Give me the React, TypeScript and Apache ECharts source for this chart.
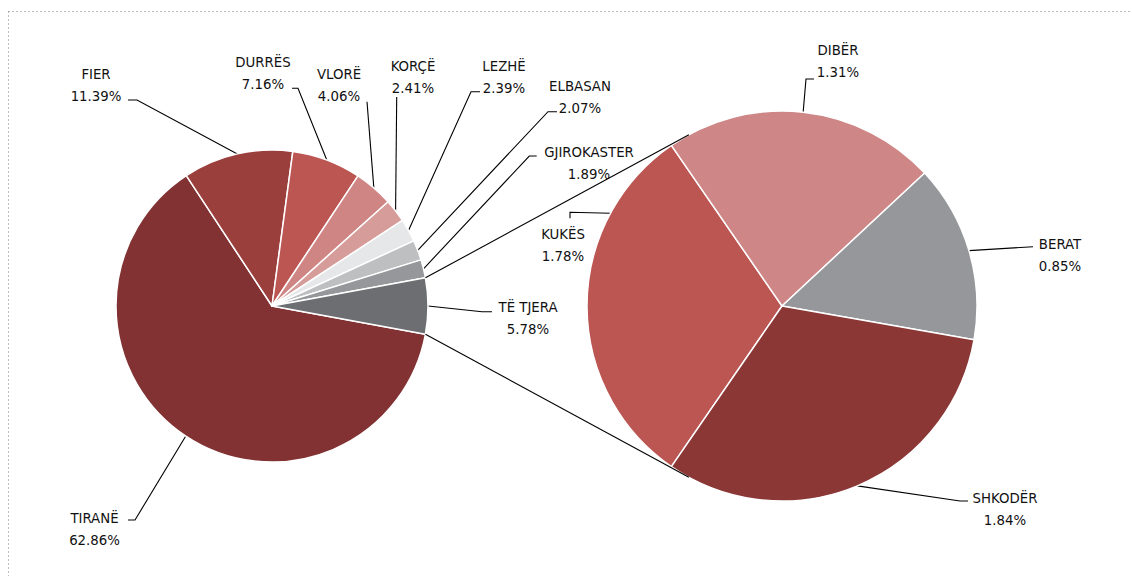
import React, { useEffect, useRef } from "react";
import * as echarts from "echarts";

// ---------- data ----------
const mainNames = ["TIRANË", "FIER", "DURRËS", "VLORË", "KORÇË", "LEZHË", "ELBASAN", "GJIROKASTER", "TË TJERA"];
const mainValues = [62.86, 11.39, 7.16, 4.06, 2.41, 2.39, 2.07, 1.89, 5.78];
const subNames = ["KUKËS", "DIBËR", "BERAT", "SHKODËR"];
const subValues = [1.78, 1.31, 0.85, 1.84];

// ---------- styles ----------
const mainColors = ["#823233", "#9B3F3D", "#BC5653", "#CF8584", "#D69C9A", "#E6E7E8", "#BEBFC1", "#96979A", "#6D6E71"];
const subColors = ["#BC5653", "#CF8686", "#96979A", "#8A3736"];

// ---------- layout ----------
const LEFT = { cx: 272, cy: 306, r: 156 };
const RIGHT = { cx: 782, cy: 306, r: 195 };
// [labelX, labelY, bendX, bendY, endX, endY, attachAngle?]
const mainLabelPos: number[][] = [
  [94.5, 528, 135, 520, 128, 520],
  [96, 84.4, 137, 100, 128, 100],
  [263, 72, 298, 88.3, 292, 88.3],
  [339, 84, 367, 101.7, 367, 101.7],
  [413, 76.6, 396.7, 97, 396.7, 97],
  [504, 76.6, 471, 91.7, 480, 91.7],
  [580, 96.6, 548, 111.7, 557, 111.7],
  [589, 162.7, 529.3, 156, 536.7, 156],
  [528, 317.4, 482, 311.7, 492, 311.7],
];
const subLabelPos: number[][] = [
  [563, 244.7, 570, 212.3, 570, 218.3, 151.6],
  [838, 60, 806, 79, 814, 79],
  [1060, 254, 1033, 246.7, 1033, 246.7],
  [1005, 508, 960, 501, 968, 501],
];

const sum = (a: number[]) => a.reduce((s, v) => s + v, 0);
const rad = (d: number) => (d * Math.PI) / 180;

function midAngles(values: number[], start: number) {
  const total = sum(values);
  let cum = 0;
  return values.map((v) => {
    const a = start - ((cum + v / 2) / total) * 360;
    cum += v;
    return a;
  });
}

function edgePoint(c: { cx: number; cy: number; r: number }, angleDeg: number) {
  return [c.cx + c.r * Math.cos(rad(angleDeg)), c.cy - c.r * Math.sin(rad(angleDeg))];
}

function tangentPoint(p: number[], c: { cx: number; cy: number; r: number }, upper: boolean) {
  const dx = p[0] - c.cx;
  const dy = -(p[1] - c.cy);
  const d = Math.sqrt(dx * dx + dy * dy);
  const base = (Math.atan2(dy, dx) * 180) / Math.PI;
  const off = (Math.acos(c.r / d) * 180) / Math.PI;
  return edgePoint(c, upper ? base - off : base + off);
}

const textStyle = {
  fontFamily: "'DejaVu Sans Condensed', 'DejaVu Sans', sans-serif",
  fontSize: 14.8,
  color: "#111111",
  lineHeight: 22,
};

export default function App() {
  const ref = useRef<HTMLDivElement>(null);

  useEffect(() => {
    if (!ref.current) return;
    const chart = echarts.init(ref.current, null, { renderer: "svg" });

    const mainTotal = sum(mainValues);
    const otherSpan = (mainValues[mainValues.length - 1] / mainTotal) * 360;
    const mainStart = 360 - otherSpan / 2;
    const subTotal = sum(subValues);
    const subStart = 180 + ((subValues[0] / subTotal) * 360) / 2;

    const mainMids = midAngles(mainValues, mainStart);
    const subMids = midAngles(subValues, subStart);

    const topLeft = edgePoint(LEFT, otherSpan / 2);
    const botLeft = edgePoint(LEFT, -otherSpan / 2);
    const topRight = tangentPoint(topLeft, RIGHT, true);
    const botRight = tangentPoint(botLeft, RIGHT, false);

    const makeLayout = (pos: number[][], mids: number[], c: typeof LEFT) => (params: any) => {
      const p = pos[params.dataIndex];
      const ang = p.length > 6 ? p[6] : mids[params.dataIndex];
      const start = edgePoint(c, ang);
      return {
        x: p[0],
        y: p[1],
        align: "center",
        verticalAlign: "middle",
        labelLinePoints: [start, [p[2], p[3]], [p[4], p[5]]],
      };
    };

    const fmt = (p: any) => `${p.name}\n${Number(p.value).toFixed(2)}%`;

    const pieCommon = {
      type: "pie",
      clockwise: true,
      avoidLabelOverlap: false,
      silent: true,
      itemStyle: { borderColor: "#ffffff", borderWidth: 1.5 },
      label: { show: true, position: "outside", formatter: fmt, ...textStyle },
      labelLine: { show: true, smooth: false, lineStyle: { color: "#000000", width: 1.1 } },
      emphasis: { disabled: true },
    };

    const dotted = { stroke: "#7a7a7a", lineWidth: 1, lineDash: [1, 3] };

    chart.setOption({
      animation: false,
      backgroundColor: "#ffffff",
      series: [
        {
          ...pieCommon,
          name: "main",
          center: [LEFT.cx, LEFT.cy],
          radius: LEFT.r,
          startAngle: mainStart,
          data: mainNames.map((n, i) => ({ name: n, value: mainValues[i], itemStyle: { color: mainColors[i] } })),
          labelLayout: makeLayout(mainLabelPos, mainMids, LEFT),
        },
        {
          ...pieCommon,
          name: "sub",
          center: [RIGHT.cx, RIGHT.cy],
          radius: RIGHT.r,
          startAngle: subStart,
          data: subNames.map((n, i) => ({ name: n, value: subValues[i], itemStyle: { color: subColors[i] } })),
          labelLayout: makeLayout(subLabelPos, subMids, RIGHT),
        },
      ],
      graphic: [
        { type: "line", silent: true, shape: { x1: 8.5, y1: 11.5, x2: 1132, y2: 11.5 }, style: dotted },
        { type: "line", silent: true, shape: { x1: 8.5, y1: 11.5, x2: 8.5, y2: 576 }, style: dotted },
        {
          type: "line",
          silent: true,
          z: 10,
          shape: { x1: topLeft[0], y1: topLeft[1], x2: topRight[0], y2: topRight[1] },
          style: { stroke: "#000000", lineWidth: 1.1 },
        },
        {
          type: "line",
          silent: true,
          z: 10,
          shape: { x1: botLeft[0], y1: botLeft[1], x2: botRight[0], y2: botRight[1] },
          style: { stroke: "#000000", lineWidth: 1.1 },
        },
      ],
    });

    return () => chart.dispose();
  }, []);

  return (
    <div
      ref={ref}
      style={{ position: "fixed", left: 0, top: 0, width: 1132, height: 576, background: "#fff" }}
    />
  );
}
